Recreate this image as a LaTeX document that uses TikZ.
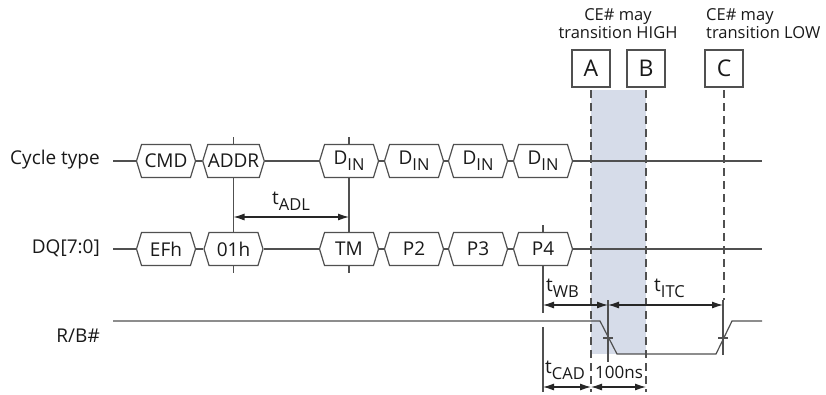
\documentclass[tikz,border=0pt]{standalone}
\usepackage{fontspec}
\setmainfont{Open Sans}
\usetikzlibrary{arrows.meta,shapes.symbols,backgrounds}
\definecolor{wave}{HTML}{505050}
\definecolor{shadeblue}{HTML}{D6DCE9}
\newcommand\lowsub[1]{\raisebox{-0.6ex}{\fontsize{16.5}{16}\selectfont #1}}
\tikzset{
  sig/.style={draw=wave, line width=1.2pt},
  bus/.style={signal, signal to=west and east, signal pointer angle=146,
    draw=wave, fill=white, line width=1.2pt, minimum width=59pt, minimum height=33pt,
    inner sep=0pt, text=black!90, font=\fontsize{19}{21}\selectfont},
  lbl/.style={font=\fontsize{19}{21}\selectfont, text=black!90, inner sep=0pt},
  guide/.style={draw=wave, line width=1.1pt},
  dashguide/.style={draw=wave, line width=1.1pt, dash pattern=on 8pt off 5pt},
  dim/.style={draw=black!85, line width=1.1pt,
    {Latex[length=11pt,width=7pt]}-{Latex[length=11pt,width=7pt]}},
  note/.style={font=\fontsize{16.5}{18}\selectfont, text=black!90, inner sep=0pt},
  letterbox/.style={draw=wave, line width=1.2pt, minimum width=38pt,
    minimum height=37pt, inner sep=0pt, text=black!90, font=\fontsize{23}{24}\selectfont}
}
\begin{document}
\begin{tikzpicture}[x=1pt,y=-1pt]
\useasboundingbox (0,0) rectangle (826,394);
% CE# boxes and the shaded window
\node[letterbox] (bxA) at (591,68.5) {A};
\node[letterbox] (bxB) at (646,68.5) {B};
\node[letterbox] (bxC) at (724,68.5) {C};
\node[note, align=center] (hi) at (618,24) {CE\# may\\transition HIGH};
\node[note, align=left, anchor=west] (lo) at (706,24) {CE\# may\\transition LOW};
\fill[shadeblue] (bxA.south |- 0,90) rectangle (bxB.south |- 0,354);
\draw[dashguide] (bxA.south |- 0,90) -- (bxA.south |- 0,392);
\draw[dashguide] (bxB.south |- 0,90) -- (bxB.south |- 0,392);
\draw[dashguide] (bxC.south |- 0,90) -- (bxC.south |- 0,300);
% row labels
\node[lbl, anchor=east] (cyc) at (100,160) {Cycle type};
\node[lbl, anchor=east] (dq) at (100,248) {DQ[7:0]};
\node[lbl, anchor=east] (rb) at (100,336) {R/B\#};
% cycle type row
\coordinate (cycS) at (113,161);
\coordinate (cycE) at (762,161);
\node[bus] (cmd) at (166,161) {CMD};
\node[bus] (addr) at (233.5,161) {ADDR};
\node[bus] (din1) at (349,161) {D\lowsub{IN}};
\node[bus] (din2) at (414,161) {D\lowsub{IN}};
\node[bus] (din3) at (478,161) {D\lowsub{IN}};
\node[bus] (din4) at (543,161) {D\lowsub{IN}};
\draw[sig] (cycS) -- (cmd.west);
\draw[sig] (cmd.east) -- (addr.west);
\draw[sig] (addr.east) -- (din1.west);
\draw[sig] (din1.east) -- (din2.west);
\draw[sig] (din2.east) -- (din3.west);
\draw[sig] (din3.east) -- (din4.west);
\draw[sig] (din4.east) -- (cycE);
% DQ row
\coordinate (dqS) at (113,249);
\coordinate (dqE) at (762,249);
\node[bus] (efh) at (166,249) {EFh};
\node[bus] (oh1) at (233.5,249) {01h};
\node[bus] (tm) at (349,249) {TM};
\node[bus] (p2) at (414,249) {P2};
\node[bus] (p3) at (478,249) {P3};
\node[bus] (p4) at (543,249) {P4};
\draw[sig] (dqS) -- (efh.west);
\draw[sig] (efh.east) -- (oh1.west);
\draw[sig] (oh1.east) -- (tm.west);
\draw[sig] (tm.east) -- (p2.west);
\draw[sig] (p2.east) -- (p3.west);
\draw[sig] (p3.east) -- (p4.west);
\draw[sig] (p4.east) -- (dqE);
% tADL
\begin{pgfonlayer}{background}
\draw[guide] (addr.center |- 0,137) -- (oh1.center |- 0,273);
\draw[guide] (din1.center |- 0,137) -- (tm.center |- 0,273);
\draw[guide] (p4.center |- 0,225) -- (p4.center |- 0,313);
\end{pgfonlayer}
\draw[dim] (addr.center |- 0,217) -- (din1.center |- 0,217);
\node[lbl] (tadl) at (291,201) {t\lowsub{ADL}};
% R/B#
\coordinate (rbS) at (113,321);
\coordinate (rbE) at (762,321);
\coordinate (fallT) at (608,338);
\coordinate (riseT) at (723,338);
\draw[sig] (rbS) -- (600,321) -- (617,354) -- (716,354) -- (732,321) -- (rbE);
\draw[sig] ([xshift=-5pt]fallT) -- ([xshift=5pt]fallT);
\draw[sig] ([xshift=-5pt]riseT) -- ([xshift=5pt]riseT);
\draw[guide] (fallT |- 0,300) -- (fallT |- 0,362);
\draw[guide] (riseT |- 0,300) -- (riseT |- 0,355);
\draw[guide] (p4.center |- 0,327) -- (p4.center |- 0,392);
% tWB, tITC, tCAD, 100ns
\draw[dim] (p4.center |- 0,305) -- (fallT |- 0,305);
\draw[dim] (fallT |- 0,305) -- (riseT |- 0,305);
\draw[dim] (p4.center |- 0,387) -- (bxA.south |- 0,387);
\draw[dim] (bxA.south |- 0,387) -- (bxB.south |- 0,387);
\node[lbl, anchor=west] (twb) at (546,288) {t\lowsub{WB}};
\node[lbl, anchor=west] (titc) at (654,288) {t\lowsub{ITC}};
\node[lbl, anchor=west] (tcad) at (545,370) {t\lowsub{CAD}};
\node[lbl, anchor=west, font=\fontsize{17}{19}\selectfont] (hundred) at (595,372) {100ns};
\end{tikzpicture}
\end{document}
